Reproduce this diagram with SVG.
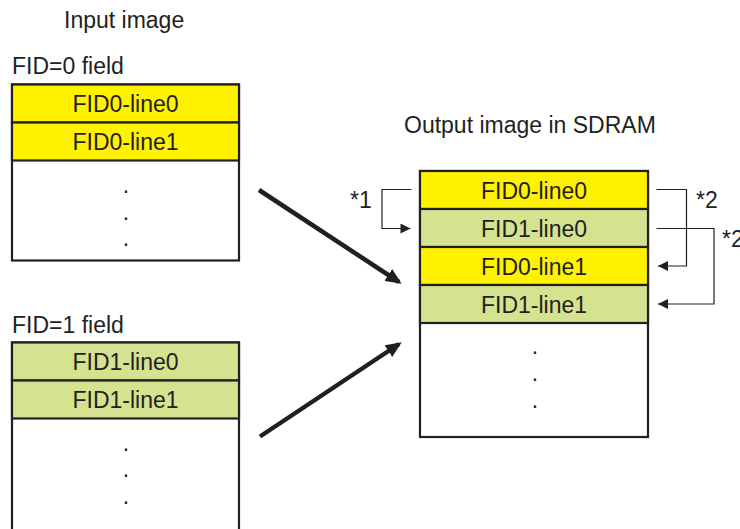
<svg xmlns="http://www.w3.org/2000/svg" width="740" height="529" viewBox="0 0 740 529">
<defs>
<style>
text{font-family:"Liberation Sans",Arial,sans-serif;font-size:23px;fill:#231f20}
.c{text-anchor:middle}
.box{fill:#fff;stroke:#231f20;stroke-width:2.2}
.y{fill:#fff200;stroke:#231f20;stroke-width:2.2}
.g{fill:#d5e28f;stroke:#231f20;stroke-width:2.2}
.thin{fill:none;stroke:#231f20;stroke-width:1.2}
.big{fill:none;stroke:#231f20;stroke-width:4.5}
</style>
<marker id="ah" viewBox="0 0 10 10" refX="10" refY="5" markerWidth="12" markerHeight="10" markerUnits="userSpaceOnUse" orient="auto"><path d="M0,0L10,5L0,10z" fill="#231f20"/></marker>
<marker id="bh" viewBox="0 0 10 10" refX="8" refY="5" markerWidth="16" markerHeight="14" markerUnits="userSpaceOnUse" orient="auto" preserveAspectRatio="none"><path d="M0,0L10,5L0,10z" fill="#231f20"/></marker>
</defs>
<text x="64" y="28">Input image</text>
<text x="12" y="74">FID=0 field</text>
<text x="12" y="333">FID=1 field</text>
<text x="404" y="133">Output image in SDRAM</text>
<g id="field0">
<rect class="box" x="12" y="84.5" width="227" height="176"/>
<rect class="y" x="12" y="84.5" width="227" height="38"/>
<rect class="y" x="12" y="122.5" width="227" height="38"/>
<text class="c" x="125.5" y="112">FID0-line0</text>
<text class="c" x="125.5" y="150">FID0-line1</text>
<text class="c" x="126" y="193">.</text>
<text class="c" x="126" y="220">.</text>
<text class="c" x="126" y="246">.</text>
</g>
<g id="field1">
<rect class="box" x="12" y="342.5" width="227" height="200"/>
<rect class="g" x="12" y="342.5" width="227" height="38"/>
<rect class="g" x="12" y="380.5" width="227" height="38"/>
<text class="c" x="125.5" y="370">FID1-line0</text>
<text class="c" x="125.5" y="408">FID1-line1</text>
<text class="c" x="126" y="451">.</text>
<text class="c" x="126" y="477">.</text>
<text class="c" x="126" y="504">.</text>
</g>
<g id="output">
<rect class="box" x="420" y="171" width="228" height="266"/>
<rect class="y" x="420" y="171" width="228" height="38"/>
<rect class="g" x="420" y="209" width="228" height="38"/>
<rect class="y" x="420" y="247" width="228" height="38"/>
<rect class="g" x="420" y="285" width="228" height="38"/>
<text class="c" x="534" y="198.5">FID0-line0</text>
<text class="c" x="534" y="236.5">FID1-line0</text>
<text class="c" x="534" y="274.5">FID0-line1</text>
<text class="c" x="534" y="312.5">FID1-line1</text>
<text class="c" x="535" y="354">.</text>
<text class="c" x="535" y="381">.</text>
<text class="c" x="535" y="408">.</text>
</g>
<g id="connectors">
<line class="big" x1="259" y1="190" x2="399" y2="282" marker-end="url(#bh)"/>
<line class="big" x1="260" y1="436.5" x2="399" y2="344" marker-end="url(#bh)"/>
<polyline class="thin" points="411.5,189.5 382,189.5 382,228.5 410.5,228.5" marker-end="url(#ah)"/>
<polyline class="thin" points="656.5,189.5 686.5,189.5 686.5,266 658,266" marker-end="url(#ah)"/>
<polyline class="thin" points="656.5,228.5 714,228.5 714,304 658,304" marker-end="url(#ah)"/>
<text x="350" y="208">*1</text>
<text x="696" y="208">*2</text>
<text x="722" y="247">*2</text>
</g>
</svg>
